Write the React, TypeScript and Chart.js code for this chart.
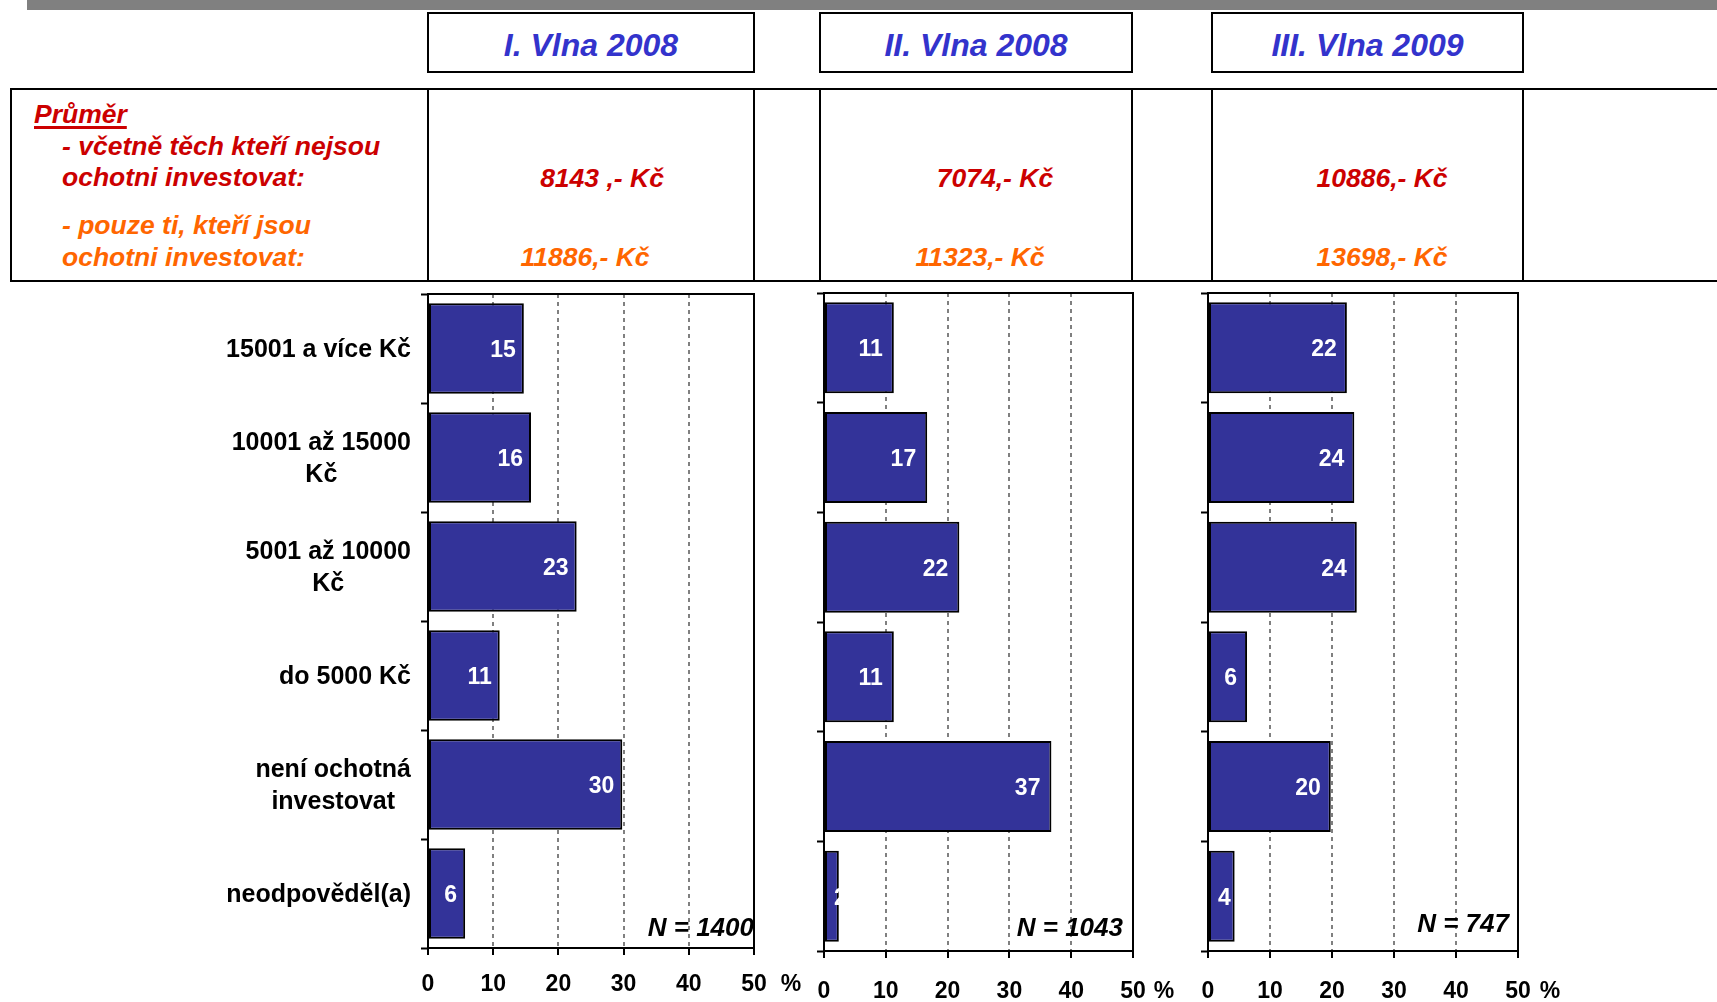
import React, { useEffect, useRef } from "react";
import { Chart, registerables } from "chart.js";

Chart.register(...registerables);

// ---------- data ----------
const categories: string[][] = [
  ["15001 a více Kč"],
  ["10001 až 15000", "Kč"],
  ["5001 až 10000", "Kč"],
  ["do 5000 Kč"],
  ["není ochotná", "investovat"],
  ["neodpověděl(a)"],
];
const wave1Values = [14.7, 15.8, 22.8, 11.0, 29.8, 5.7];
const wave2Values = [11.3, 16.7, 21.9, 11.3, 36.8, 2.4];
const wave3Values = [22.4, 23.6, 24.0, 6.3, 19.8, 4.3];
const waveTitles = ["I. Vlna 2008", "II. Vlna 2008", "III. Vlna 2009"];
const sampleSizes = ["N = 1400", "N = 1043", "N = 747"];
const avgIncluding = ["8143 ,- Kč", "7074,- Kč", "10886,- Kč"];
const avgWilling = ["11886,- Kč", "11323,- Kč", "13698,- Kč"];
const xTicks = [0, 10, 20, 30, 40, 50];
const avgHeading = "Průměr";
const avgLine1 = ["- včetně těch kteří nejsou", "ochotni investovat:"];
const avgLine2 = ["- pouze ti, kteří jsou", "ochotni investovat:"];

// ---------- layout / style ----------
const W = 1717;
const H = 1002;
const FONT = '"Liberation Sans", Arial, Helvetica, sans-serif';
const BAR_COLOR = "#333399";
const TITLE_COLOR = "#3333CC";
const RED = "#CC0000";
const ORANGE = "#FF6600";
const Y_AXIS_W = 10;
const TICK_LEN = 7;

type Panel = {
  values: number[];
  left: number; right: number; top: number; bottom: number;
  boxL: number; boxR: number; avg1X: number; avg2X: number;
  labelPad: number; pctOffset: number; nRight: number; nY: number; labelY: number;
  showCats: boolean;
};

const panels: Panel[] = [
  { values: wave1Values, left: 428, right: 754, top: 294, bottom: 948, boxL: 427, boxR: 755, avg1X: 602, avg2X: 585, labelPad: 8, pctOffset: 37, nRight: 0, nY: 929, labelY: 985, showCats: true },
  { values: wave2Values, left: 824, right: 1133, top: 293, bottom: 951, boxL: 819, boxR: 1133, avg1X: 995, avg2X: 980, labelPad: 11, pctOffset: 31, nRight: 10, nY: 929, labelY: 992, showCats: false },
  { values: wave3Values, left: 1208, right: 1518, top: 293, bottom: 951, boxL: 1211, boxR: 1524, avg1X: 1382, avg2X: 1382, labelPad: 10, pctOffset: 32, nRight: 9, nY: 925, labelY: 992, showCats: false },
];

function WaveChart({ panel, nLabel }: { panel: Panel; nLabel: string }) {
  const ref = useRef<HTMLCanvasElement | null>(null);
  useEffect(() => {
    const canvas = ref.current;
    if (!canvas) return;
    const p = panel;
    const tickFontSize = 23;
    const xAxisH = H - p.bottom;
    const tickPad = p.labelY - p.bottom - TICK_LEN - (tickFontSize * 1.2) / 2;

    const overlay = {
      id: "overlay",
      afterDraw(chart: any) {
        const ctx = chart.ctx as CanvasRenderingContext2D;
        const ca = chart.chartArea;
        ctx.save();
        // frame
        ctx.strokeStyle = "#000";
        ctx.lineWidth = 2;
        ctx.setLineDash([]);
        ctx.strokeRect(ca.left, ca.top, ca.right - ca.left, ca.bottom - ca.top);

        // bar value labels
        const meta = chart.getDatasetMeta(0);
        ctx.font = `bold 23px ${FONT}`;
        ctx.fillStyle = "#FFFFFF";
        ctx.textAlign = "right";
        ctx.textBaseline = "middle";
        meta.data.forEach((el: any, i: number) => {
          const txt = String(Math.round(p.values[i]));
          const w = ctx.measureText(txt).width;
          const props = el.getProps(["x", "y", "base"], true);
          let r = props.x - p.labelPad;
          if (r - w < props.base + 9) r = props.base + 9 + w;
          ctx.fillText(txt, r, props.y + 2);
        });

        // category labels
        if (p.showCats) {
          const ys = chart.scales.y;
          ctx.font = `bold 25px ${FONT}`;
          ctx.fillStyle = "#000";
          ctx.textAlign = "center";
          categories.forEach((lines, i) => {
            const cy = ys.getPixelForValue(i) + 2;
            const bw = Math.max(...lines.map((l) => ctx.measureText(l).width));
            const cx = ca.left - 17 - bw / 2;
            lines.forEach((l, j) => {
              ctx.fillText(l, cx, cy + (j - (lines.length - 1) / 2) * 32);
            });
          });
        }

        // percent sign
        const xs = chart.scales.x;
        ctx.font = `bold 23px ${FONT}`;
        ctx.fillStyle = "#000";
        ctx.textAlign = "center";
        ctx.fillText("%", xs.getPixelForValue(xTicks[xTicks.length - 1]) + p.pctOffset, p.labelY);

        // N label
        ctx.font = `italic bold 26px ${FONT}`;
        ctx.textAlign = "right";
        ctx.fillText(nLabel, ca.right - p.nRight, p.nY);
        ctx.restore();
      },
    };

    const chart = new Chart(canvas, {
      type: "bar",
      data: {
        labels: categories as any,
        datasets: [
          {
            data: p.values,
            backgroundColor: BAR_COLOR,
            borderColor: "#000000",
            borderWidth: 2,
            borderSkipped: false,
            barPercentage: 0.83,
            categoryPercentage: 1,
          } as any,
        ],
      },
      options: {
        indexAxis: "y",
        responsive: false,
        animation: false,
        devicePixelRatio: 1,
        events: [],
        layout: {
          padding: {
            left: p.left - Y_AXIS_W,
            top: p.top,
            right: W - p.right,
            bottom: 0,
          },
        },
        plugins: {
          legend: { display: false },
          tooltip: { enabled: false },
          title: { display: false },
        },
        scales: {
          x: {
            type: "linear",
            min: xTicks[0],
            max: xTicks[xTicks.length - 1],
            afterFit: (s: any) => { s.height = xAxisH; },
            afterBuildTicks: (s: any) => { s.ticks = xTicks.map((v) => ({ value: v })); },
            ticks: {
              color: "#000",
              font: { family: FONT, size: tickFontSize, weight: "bold" },
              padding: tickPad,
              maxRotation: 0,
              autoSkip: false,
            },
            grid: {
              color: "#808080",
              lineWidth: 2,
              drawTicks: true,
              tickLength: TICK_LEN,
              tickColor: "#000",
              tickWidth: 2,
              borderDash: [4, 4],
            } as any,
            border: { display: true, color: "#000", width: 2, dash: [4, 4] },
          },
          y: {
            type: "category",
            afterFit: (s: any) => { s.width = Y_AXIS_W; },
            ticks: { display: false },
            grid: {
              drawOnChartArea: false,
              drawTicks: true,
              tickLength: TICK_LEN,
              tickColor: "#000",
              tickWidth: 2,
              offset: true,
            },
            border: { display: true, color: "#000", width: 2 },
          },
        },
      } as any,
      plugins: [overlay],
    });
    return () => chart.destroy();
  }, [panel, nLabel]);

  return (
    <canvas
      ref={ref}
      width={W}
      height={H}
      style={{ position: "absolute", left: 0, top: 0, width: W, height: H }}
    />
  );
}

const line = (left: number, top: number, width: number, height: number, key: string) => (
  <div key={key} style={{ position: "absolute", left, top, width, height, background: "#000" }} />
);

export default function App() {
  const textBase: React.CSSProperties = {
    position: "absolute",
    whiteSpace: "nowrap",
    fontFamily: FONT,
    fontWeight: "bold",
    fontStyle: "italic",
    fontSize: 26.5,
    lineHeight: "30px",
  };
  return (
    <div
      style={{
        position: "fixed",
        left: 0,
        top: 0,
        width: W,
        height: H,
        overflow: "hidden",
        background: "#FFFFFF",
        fontFamily: FONT,
      }}
    >
      {/* top gray band */}
      <div style={{ position: "absolute", left: 27, top: 0, width: W - 27, height: 10, background: "#808080" }} />

      {/* wave title boxes */}
      {panels.map((p, i) => (
        <div
          key={"t" + i}
          style={{
            position: "absolute",
            left: p.boxL,
            top: 12,
            width: p.boxR - p.boxL,
            height: 61,
            boxSizing: "border-box",
            border: "2px solid #000",
            paddingTop: 5,
            display: "flex",
            alignItems: "center",
            justifyContent: "center",
            color: TITLE_COLOR,
            fontWeight: "bold",
            fontStyle: "italic",
            fontSize: 32,
            whiteSpace: "nowrap",
          }}
        >
          {waveTitles[i]}
        </div>
      ))}

      {/* averages table lines */}
      {line(10, 88, W - 10, 2, "tt")}
      {line(10, 280, W - 10, 2, "tb")}
      {line(10, 88, 2, 194, "tl")}
      {panels.map((p, i) => [
        line(p.boxL, 88, 2, 194, "bl" + i),
        line(p.boxR - 2, 88, 2, 194, "br" + i),
      ])}

      {/* averages labels */}
      <div
        style={{
          ...textBase,
          left: 34,
          top: 99,
          color: RED,
          textDecoration: "underline",
          textDecorationThickness: "3px",
          textUnderlineOffset: "3px",
        }}
      >
        {avgHeading}
      </div>
      <div style={{ ...textBase, left: 62, top: 131, color: RED }}>{avgLine1[0]}</div>
      <div style={{ ...textBase, left: 62, top: 162, color: RED }}>{avgLine1[1]}</div>
      <div style={{ ...textBase, left: 62, top: 210, color: ORANGE }}>{avgLine2[0]}</div>
      <div style={{ ...textBase, left: 62, top: 242, color: ORANGE }}>{avgLine2[1]}</div>

      {panels.map((p, i) => (
        <React.Fragment key={"v" + i}>
          <div style={{ ...textBase, left: p.avg1X - 150, width: 300, textAlign: "center", top: 163, color: RED }}>
            {avgIncluding[i]}
          </div>
          <div style={{ ...textBase, left: p.avg2X - 150, width: 300, textAlign: "center", top: 242, color: ORANGE }}>
            {avgWilling[i]}
          </div>
        </React.Fragment>
      ))}

      {/* charts */}
      {panels.map((p, i) => (
        <WaveChart key={"c" + i} panel={p} nLabel={sampleSizes[i]} />
      ))}
    </div>
  );
}
